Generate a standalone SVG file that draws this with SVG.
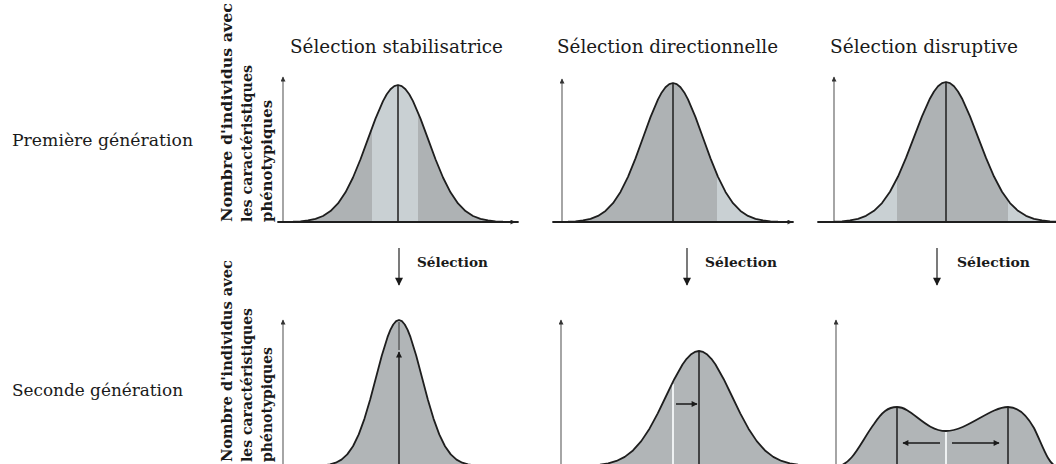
<svg xmlns="http://www.w3.org/2000/svg" xmlns:xlink="http://www.w3.org/1999/xlink" width="1056" height="464" viewBox="0 0 1056 464">
<style>
.title{font-family:"DejaVu Serif","Liberation Serif",serif;font-size:18px;fill:#1a1a1a}
.row{font-family:"DejaVu Serif","Liberation Serif",serif;font-size:16px;fill:#1a1a1a}
.ylab{font-family:"DejaVu Serif","Liberation Serif",serif;font-size:14px;font-weight:bold;fill:#1a1a1a}
.sel{font-family:"DejaVu Serif","Liberation Serif",serif;font-size:13px;font-weight:bold;fill:#1a1a1a}
.yaxis{stroke:#6a6a6a;stroke-width:1.2;fill:none}
.xaxis{stroke:#333;stroke-width:1.3;fill:none}
.curve{fill:none;stroke:#1e1e1e;stroke-width:1.8}
.dark{fill:#aeb2b4}
.light{fill:#c9d0d3}
.mid{fill:#b1b5b7}
.mean{stroke:#1e1e1e;stroke-width:1.5;fill:none}
.white{stroke:#eef1f2;stroke-width:2;fill:none}
.conn{stroke:#222;stroke-width:1.2;fill:none}
</style>
<defs>
<path id="g" d="M-4,0 L-3.75,-0.0009 L-3.5,-0.0022 L-3.25,-0.0051 L-3,-0.0111 L-2.75,-0.0228 L-2.5,-0.0439 L-2.25,-0.0796 L-2,-0.1353 L-1.75,-0.2163 L-1.5,-0.3247 L-1.25,-0.4578 L-1,-0.6065 L-0.75,-0.7548 L-0.5,-0.8825 L-0.375,-0.9321 L-0.25,-0.9692 L-0.125,-0.9922 L0,-1 L0.125,-0.9922 L0.25,-0.9692 L0.375,-0.9321 L0.5,-0.8825 L0.75,-0.7548 L1,-0.6065 L1.25,-0.4578 L1.5,-0.3247 L1.75,-0.2163 L2,-0.1353 L2.25,-0.0796 L2.5,-0.0439 L2.75,-0.0228 L3,-0.0111 L3.25,-0.0051 L3.5,-0.0022 L3.75,-0.0009 L4,0 Z" vector-effect="non-scaling-stroke" stroke-linejoin="round"/>
<path id="bi" d="M838,466 C852,465 862,440 874,424 C882,412 888,407 897,407 C912,407 925,431 946,431 C967,431 990,407 1008,407 C1018,407 1026,414 1034,428 C1042,444 1048,464 1056,466 Z"/>
<clipPath id="cTL"><use xlink:href="#g" transform="translate(398,222) scale(30,137)"/></clipPath>
<clipPath id="cTM"><use xlink:href="#g" transform="translate(673,222) scale(30,139)"/></clipPath>
<clipPath id="cTR"><use xlink:href="#g" transform="translate(946,222) scale(32,140)"/></clipPath>
<marker id="ax" viewBox="0 0 10 10" refX="9" refY="5" markerWidth="6" markerHeight="5" markerUnits="userSpaceOnUse" orient="auto"><path d="M0,0 L10,5 L0,10 Z" fill="#333"/></marker>
<marker id="sa" viewBox="0 0 10 10" refX="9" refY="5" markerWidth="13" markerHeight="8" markerUnits="userSpaceOnUse" orient="auto"><path d="M0,0 L10,5 L0,10 Z" fill="#1a1a1a"/></marker>
<marker id="sm" viewBox="0 0 10 10" refX="9" refY="5" markerWidth="8" markerHeight="6" markerUnits="userSpaceOnUse" orient="auto"><path d="M0,0 L10,5 L0,10 Z" fill="#1a1a1a"/></marker>
</defs>
<rect width="1056" height="464" fill="#fff"/>

<g id="titles">
<text class="title" x="290" y="53" textLength="213" lengthAdjust="spacingAndGlyphs">Sélection stabilisatrice</text>
<text class="title" x="557" y="53" textLength="221" lengthAdjust="spacingAndGlyphs">Sélection directionnelle</text>
<text class="title" x="830" y="53" textLength="188" lengthAdjust="spacingAndGlyphs">Sélection disruptive</text>
</g>

<g id="row-labels">
<text class="row" x="12" y="146" textLength="181" lengthAdjust="spacingAndGlyphs">Première génération</text>
<text class="row" x="12" y="396" textLength="171" lengthAdjust="spacingAndGlyphs">Seconde génération</text>
</g>

<g id="ylabel-top">
<text class="ylab" transform="translate(232,222) rotate(-90)" textLength="219" lengthAdjust="spacingAndGlyphs">Nombre d'individus avec</text>
<text class="ylab" transform="translate(252,222) rotate(-90)" textLength="157" lengthAdjust="spacingAndGlyphs">les caractéristiques</text>
<text class="ylab" transform="translate(272,222) rotate(-90)" textLength="122" lengthAdjust="spacingAndGlyphs">phénotypiques</text>
</g>
<g id="ylabel-bottom">
<text class="ylab" transform="translate(232,462) rotate(-90)" textLength="202" lengthAdjust="spacingAndGlyphs">Nombre d'individus avec</text>
<text class="ylab" transform="translate(252,462) rotate(-90)" textLength="154" lengthAdjust="spacingAndGlyphs">les caractéristiques</text>
<text class="ylab" transform="translate(272,462) rotate(-90)" textLength="115" lengthAdjust="spacingAndGlyphs">phénotypiques</text>
</g>

<g id="panel-stab-1">
<g clip-path="url(#cTL)"><rect class="dark" x="270" y="80" width="260" height="145"/><rect class="light" x="372" y="80" width="46" height="145"/></g>
<path class="yaxis" d="M283,222 L283,77" marker-end="url(#ax)"/>
<path class="xaxis" d="M283,222 L515,222" marker-end="url(#ax)"/>
<line class="mean" x1="398" y1="86" x2="398" y2="222"/>
<use xlink:href="#g" class="curve" transform="translate(398,222) scale(30,137)"/>
</g>

<g id="panel-dir-1">
<g clip-path="url(#cTM)"><rect class="dark" x="560" y="80" width="240" height="145"/><rect class="light" x="717" y="80" width="80" height="145"/></g>
<path class="yaxis" d="M562,222 L562,79" marker-end="url(#ax)"/>
<path class="xaxis" d="M562,222 L792,222" marker-end="url(#ax)"/>
<line class="mean" x1="673" y1="84" x2="673" y2="222"/>
<use xlink:href="#g" class="curve" transform="translate(673,222) scale(30,139)"/>
</g>

<g id="panel-dis-1">
<g clip-path="url(#cTR)"><rect class="light" x="830" y="80" width="226" height="145"/><rect class="dark" x="897" y="80" width="111" height="145"/></g>
<path class="yaxis" d="M834,222 L834,77" marker-end="url(#ax)"/>
<path class="xaxis" d="M834,222 L1056,222"/>
<line class="mean" x1="946" y1="83" x2="946" y2="222"/>
<use xlink:href="#g" class="curve" transform="translate(946,222) scale(32,140)"/>
</g>

<g id="panel-stab-2">
<path class="yaxis" d="M283,470 L283,320" marker-end="url(#ax)"/>
<path class="xaxis" d="M283,466 L515,466"/>
<use xlink:href="#g" class="mid" transform="translate(399,466) scale(23,146)"/>
<path class="mean" d="M399,466 L399,352" marker-end="url(#sm)"/>
<line x1="399" y1="322" x2="399" y2="350" stroke="#333" stroke-width="1"/>
<use xlink:href="#g" class="curve" transform="translate(399,466) scale(23,146)"/>
</g>

<g id="panel-dir-2">
<path class="yaxis" d="M561,470 L561,320" marker-end="url(#ax)"/>
<path class="xaxis" d="M561,466 L792,466"/>
<use xlink:href="#g" class="mid" transform="translate(699,466) scale(33,115)"/>
<line class="white" x1="673" y1="384" x2="673" y2="466"/>
<line class="mean" x1="699" y1="352" x2="699" y2="466"/>
<path d="M676,404 L697,404" stroke="#1a1a1a" stroke-width="1.5" marker-end="url(#sm)"/>
<use xlink:href="#g" class="curve" transform="translate(699,466) scale(33,115)"/>
</g>

<g id="panel-dis-2">
<path class="yaxis" d="M836,470 L836,320" marker-end="url(#ax)"/>
<use xlink:href="#bi" class="mid"/>
<line class="white" x1="946" y1="432" x2="946" y2="466"/>
<line class="mean" x1="897" y1="408" x2="897" y2="466"/>
<line class="mean" x1="1008" y1="408" x2="1008" y2="466"/>
<path d="M940,443 L903,443" stroke="#1a1a1a" stroke-width="1.5" marker-end="url(#sm)"/>
<path d="M952,443 L999,443" stroke="#1a1a1a" stroke-width="1.5" marker-end="url(#sm)"/>
<use xlink:href="#bi" class="curve"/>
</g>

<g id="connectors">
<path class="conn" d="M399,248 L399,285" marker-end="url(#sa)"/>
<path class="conn" d="M687,248 L687,285" marker-end="url(#sa)"/>
<path class="conn" d="M937,248 L937,285" marker-end="url(#sa)"/>
<text class="sel" x="417" y="267" textLength="71" lengthAdjust="spacingAndGlyphs">Sélection</text>
<text class="sel" x="705" y="267" textLength="72" lengthAdjust="spacingAndGlyphs">Sélection</text>
<text class="sel" x="957" y="267" textLength="73" lengthAdjust="spacingAndGlyphs">Sélection</text>
</g>
</svg>
